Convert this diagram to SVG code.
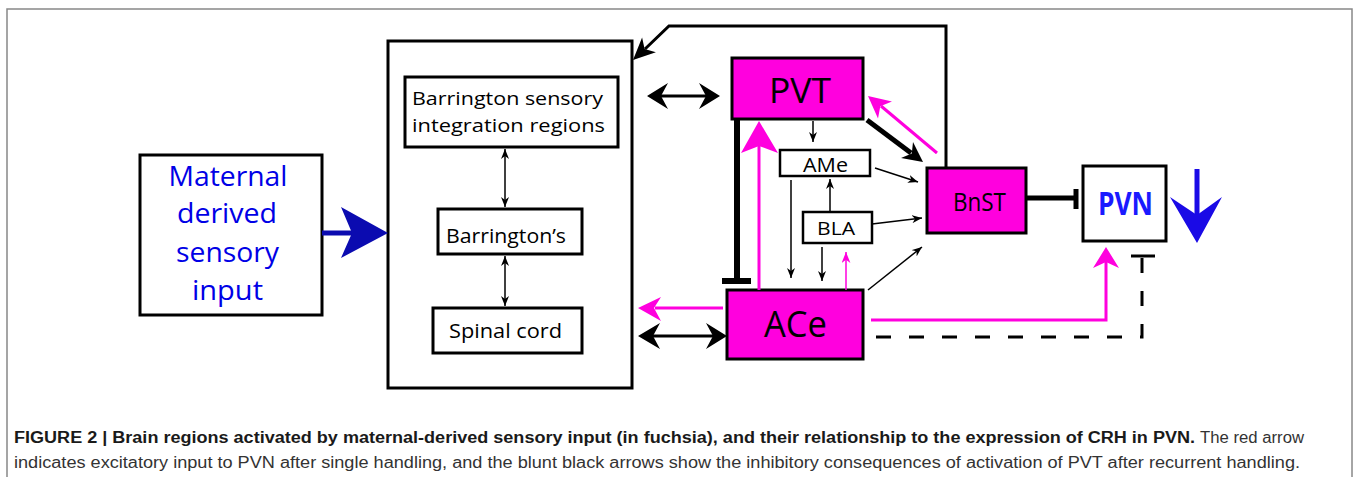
<svg xmlns="http://www.w3.org/2000/svg" width="1356" height="477" viewBox="0 0 1356 477">
<style>
.box{fill:#fff;stroke:#000;stroke-width:3}
.mag{fill:#ff00de;stroke:#000;stroke-width:3}
.t{font-family:"Open Sans","Noto Sans",sans-serif;fill:#000;text-anchor:middle}
.blue{fill:#0000e6}
.ln{fill:none;stroke:#000;stroke-width:1.5}
.thick{fill:none;stroke:#000;stroke-width:3}
.mline{fill:none;stroke:#ff00de;stroke-width:3}
.cap{font-family:"Liberation Sans",Arial,sans-serif;font-size:16px}
</style>
<defs>
<marker id="sa" viewBox="0 0 10 8" refX="10" refY="4" markerWidth="10" markerHeight="8" markerUnits="userSpaceOnUse" orient="auto-start-reverse">
<path d="M0,0 L10,4 L0,8 L3,4 z" fill="#000"/>
</marker>
<marker id="sm" viewBox="0 0 10 8" refX="10" refY="4" markerWidth="11" markerHeight="9" markerUnits="userSpaceOnUse" orient="auto">
<path d="M0,0 L10,4 L0,8 L3,4 z" fill="#ff00de"/>
</marker>
</defs>
<rect x="7" y="9" width="1345" height="490" fill="none" stroke="#888" stroke-width="1.5"/>

<g id="maternal">
<rect class="box" x="140" y="155" width="182" height="160"/>
<text class="t blue" font-size="28" x="228" y="186" textLength="119" lengthAdjust="spacingAndGlyphs">Maternal</text>
<text class="t blue" font-size="28" x="227" y="223" textLength="100" lengthAdjust="spacingAndGlyphs">derived</text>
<text class="t blue" font-size="28" x="227.5" y="262" textLength="103" lengthAdjust="spacingAndGlyphs">sensory</text>
<text class="t blue" font-size="28" x="227.5" y="300" textLength="71" lengthAdjust="spacingAndGlyphs">input</text>
</g>

<g id="brainstem">
<rect class="box" x="388" y="41" width="244" height="347"/>
</g>
<g id="barrington-sensory">
<rect class="box" x="405" y="77" width="213" height="70"/>
<text class="t" font-size="19" x="507.5" y="105" textLength="191" lengthAdjust="spacingAndGlyphs">Barrington sensory</text>
<text class="t" font-size="19" x="508.5" y="132" textLength="193" lengthAdjust="spacingAndGlyphs">integration regions</text>
</g>
<g id="barringtons">
<rect class="box" x="438" y="209" width="144" height="45"/>
<text class="t" font-size="20" x="506" y="243" textLength="120" lengthAdjust="spacingAndGlyphs">Barrington’s</text>
</g>
<g id="spinal">
<rect class="box" x="433" y="308" width="149" height="45"/>
<text class="t" font-size="20" x="505.5" y="338" textLength="113" lengthAdjust="spacingAndGlyphs">Spinal cord</text>
</g>

<g id="pvt">
<rect class="mag" x="732" y="58" width="131" height="61"/>
<text class="t" font-size="35" x="800" y="103" textLength="62" lengthAdjust="spacingAndGlyphs">PVT</text>
</g>
<g id="ame">
<rect class="box" x="780" y="150" width="90" height="26" style="stroke-width:2.5"/>
<text class="t" font-size="20" x="825.5" y="172" textLength="45" lengthAdjust="spacingAndGlyphs">AMe</text>
</g>
<g id="bla">
<rect class="box" x="803" y="212" width="69" height="31" style="stroke-width:2.5"/>
<text class="t" font-size="19" x="836" y="235" textLength="38" lengthAdjust="spacingAndGlyphs">BLA</text>
</g>
<g id="ace">
<rect class="mag" x="727" y="290" width="136" height="69"/>
<text class="t" font-size="37" x="795.5" y="337" textLength="63" lengthAdjust="spacingAndGlyphs">ACe</text>
</g>
<g id="bnst">
<rect class="mag" x="927" y="168" width="99" height="65"/>
<text class="t" font-size="25" x="979.5" y="211" textLength="53" lengthAdjust="spacingAndGlyphs">BnST</text>
</g>
<g id="pvn">
<rect class="box" x="1083" y="166" width="83" height="75"/>
<text class="t" font-size="32" font-weight="bold" x="1125.5" y="215" textLength="55" lengthAdjust="spacingAndGlyphs" style="fill:#1a1aff">PVN</text>
</g>

<g id="connectors">
<line x1="322" y1="233" x2="352" y2="233" stroke="#0b0bb0" stroke-width="5"/>
<polygon points="388,233 341,207 352,233 341,258" fill="#0b0bb0"/>
<line class="ln" x1="505" y1="149" x2="505" y2="207" marker-start="url(#sa)" marker-end="url(#sa)"/>
<line class="ln" x1="505" y1="256" x2="505" y2="306" marker-start="url(#sa)" marker-end="url(#sa)"/>
<line class="thick" x1="655" y1="96" x2="712" y2="96"/>
<polygon points="647,96 668,83 661,96 668,109"/>
<polygon points="720,96 699,83 706,96 699,109"/>
<polyline class="thick" points="946,168 946,26 669,26 645,49"/>
<polygon points="633,60 642.1,37.6 644.6,49 655.9,52.2"/>
<line x1="737" y1="119" x2="737" y2="281" stroke="#000" stroke-width="6"/>
<line x1="722" y1="281" x2="751" y2="281" stroke="#000" stroke-width="6"/>
<line class="mline" x1="759" y1="290" x2="759" y2="146"/>
<polygon points="759,121 741,153 759,146 778,153" fill="#ff00de"/>
<line class="ln" x1="813" y1="121" x2="813" y2="142" marker-end="url(#sa)"/>
<line class="ln" x1="830" y1="212" x2="830" y2="179" marker-end="url(#sa)"/>
<line class="ln" x1="791" y1="180" x2="791" y2="278" marker-end="url(#sa)"/>
<line class="ln" x1="822" y1="247" x2="822" y2="281" marker-end="url(#sa)"/>
<line x1="846" y1="290" x2="846" y2="252" stroke="#ff00de" stroke-width="1.5" marker-end="url(#sm)"/>
<line class="ln" x1="868" y1="290" x2="922" y2="247" marker-end="url(#sa)"/>
<line class="ln" x1="875" y1="168" x2="918" y2="182" marker-end="url(#sa)"/>
<line class="ln" x1="872" y1="224" x2="922" y2="218" marker-end="url(#sa)"/>
<line x1="867" y1="120" x2="911" y2="153" stroke="#000" stroke-width="5"/>
<polygon points="923,162 901,158 911.8,153.6 913,142"/>
<line class="mline" x1="937" y1="153" x2="881" y2="106"/>
<polygon points="868,96 892,101.5 880.3,106.2 878,118.5" fill="#ff00de"/>
<line x1="1027" y1="198" x2="1076" y2="198" stroke="#000" stroke-width="5"/>
<line x1="1076" y1="189" x2="1076" y2="209" stroke="#000" stroke-width="5"/>
<line x1="1197" y1="169" x2="1197" y2="215" stroke="#1a0ae6" stroke-width="5"/>
<polygon points="1170,197 1197,215 1222,197 1197,243" fill="#1a0ae6"/>
<line class="mline" x1="723" y1="308" x2="655" y2="308"/>
<polygon points="638,308 661,297 654,308 661,321" fill="#ff00de"/>
<line class="thick" x1="650" y1="336" x2="715" y2="336"/>
<polygon points="638,336 660,323 653,336 660,349"/>
<polygon points="727,336 706,323 713,336 706,349"/>
<polyline class="mline" points="871,320 1106,320 1106,262"/>
<polygon points="1106,247 1093,268 1106,262 1119,268" fill="#ff00de"/>
<polyline class="thick" points="1142,256 1142,337 871,337" stroke-dasharray="15 18" stroke-dashoffset="-2"/>
<line class="thick" x1="1131" y1="256" x2="1155" y2="256"/>
</g>

<g id="caption">
<text class="cap" x="14" y="443" font-weight="bold" fill="#1a1a1a" textLength="1181" lengthAdjust="spacingAndGlyphs">FIGURE 2 | Brain regions activated by maternal-derived sensory input (in fuchsia), and their relationship to the expression of CRH in PVN.</text>
<text class="cap" x="1200" y="443" fill="#333" textLength="104" lengthAdjust="spacingAndGlyphs">The red arrow</text>
<text class="cap" x="14" y="468" fill="#333" textLength="1286" lengthAdjust="spacingAndGlyphs">indicates excitatory input to PVN after single handling, and the blunt black arrows show the inhibitory consequences of activation of PVT after recurrent handling.</text>
</g>
</svg>
